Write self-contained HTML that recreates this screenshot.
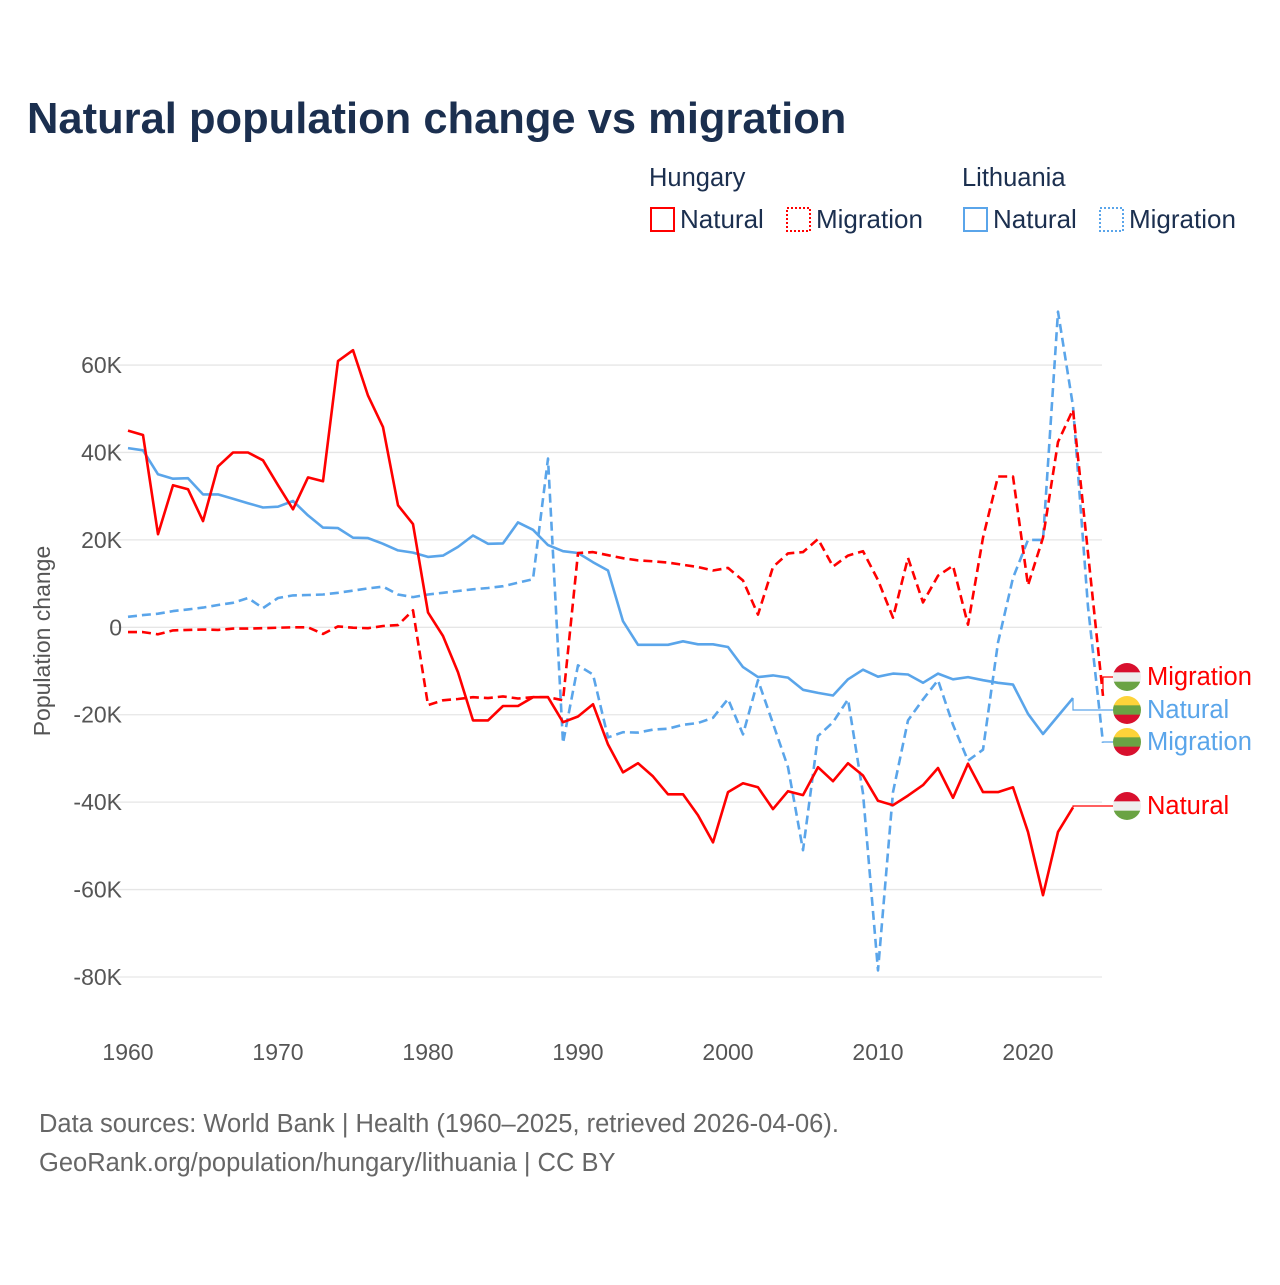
<!DOCTYPE html>
<html><head><meta charset="utf-8">
<style>
html,body{margin:0;padding:0;background:#fff;}
body{width:1280px;height:1280px;overflow:hidden;font-family:"Liberation Sans",sans-serif;}
svg text{font-family:"Liberation Sans",sans-serif;}
</style></head>
<body>
<svg id="chart" width="1280" height="1280" viewBox="0 0 1280 1280">
<text x="27" y="133" font-size="43.5" font-weight="bold" fill="#1b2f4f">Natural population change vs migration</text>
<g>
<text x="649" y="186" font-size="25.5" fill="#1b2f4f">Hungary</text>
<text x="962" y="186" font-size="25.5" fill="#1b2f4f">Lithuania</text>
<g><rect x="651" y="208" width="23" height="23" fill="none" stroke="#ff0000" stroke-width="2"/><text x="680" y="228" font-size="26" fill="#1b2f4f">Natural</text></g>
<g><rect x="787" y="208" width="23" height="23" fill="none" stroke="#ff0000" stroke-width="2" stroke-dasharray="2,2"/><text x="816" y="228" font-size="26" fill="#1b2f4f">Migration</text></g>
<g><rect x="964" y="208" width="23" height="23" fill="none" stroke="#5aa5ea" stroke-width="2"/><text x="993" y="228" font-size="26" fill="#1b2f4f">Natural</text></g>
<g><rect x="1100" y="208" width="23" height="23" fill="none" stroke="#5aa5ea" stroke-width="2" stroke-dasharray="2,2"/><text x="1129" y="228" font-size="26" fill="#1b2f4f">Migration</text></g>
</g>
<g id="grid"></g>
<g id="yticks"></g>
<g id="xticks"></g>
<text transform="translate(50,641) rotate(-90)" text-anchor="middle" font-size="23" fill="#555">Population change</text>
<g id="series"></g>
<g id="labels"></g>
<text x="39" y="1132" font-size="25.5" fill="#666">Data sources: World Bank | Health (1960–2025, retrieved 2026-04-06).</text>
<text x="39" y="1171" font-size="25.5" fill="#666">GeoRank.org/population/hungary/lithuania | CC BY</text>
</svg>
<script>
const yTicks = [60, 40, 20, 0, -20, -40, -60, -80];
const yTickLabels = ["60K","40K","20K","0","-20K","-40K","-60K","-80K"];
const xTicks = [1960,1970,1980,1990,2000,2010,2020];
const startYear = 1960;
const huNatural = [45,44,21.3,32.5,31.6,24.3,36.8,40,40,38.2,32.5,27,34.3,33.4,60.9,63.4,53,45.8,27.9,23.6,3.4,-2,-10.3,-21.3,-21.3,-18,-18,-16,-16,-21.7,-20.4,-17.6,-26.8,-33.2,-31.1,-34.1,-38.2,-38.2,-43,-49.2,-37.7,-35.7,-36.6,-41.6,-37.5,-38.4,-32,-35.2,-31.1,-33.9,-39.7,-40.7,-38.5,-36.1,-32.2,-39,-31.2,-37.7,-37.7,-36.6,-46.8,-61.3,-46.8,-41.2];
const huMigration = [-1.1,-1.1,-1.6,-0.7,-0.6,-0.5,-0.6,-0.3,-0.3,-0.2,-0.1,0,0,-1.5,0.2,-0.1,-0.2,0.3,0.5,3.9,-17.8,-16.7,-16.4,-16,-16.2,-15.8,-16.3,-16,-16,-16.7,17,17.2,16.5,15.8,15.3,15.1,14.8,14.3,13.8,13,13.6,10.7,2.9,13.8,16.9,17.2,20.2,13.9,16.4,17.4,10.8,2.2,15.9,5.7,11.8,14.1,0.6,20.5,34.5,34.5,9.6,20.5,42.4,49.8,17,-15.7];
const ltNatural = [41,40.5,35,34,34.1,30.4,30.4,29.4,28.4,27.4,27.6,28.9,25.6,22.8,22.7,20.5,20.4,19.1,17.6,17.1,16.1,16.4,18.4,21,19.1,19.2,24,22.3,18.8,17.4,17,14.9,13,1.4,-4,-4,-4,-3.2,-3.9,-3.9,-4.5,-9.1,-11.4,-11,-11.5,-14.3,-15,-15.6,-11.9,-9.7,-11.3,-10.6,-10.8,-12.7,-10.6,-11.9,-11.4,-12.1,-12.7,-13.1,-19.8,-24.4,-20.3,-16.2];
const ltMigration = [2.4,2.8,3.1,3.7,4.1,4.5,5.1,5.6,6.7,4.4,6.7,7.3,7.4,7.5,7.9,8.4,8.9,9.3,7.5,6.9,7.5,7.9,8.3,8.7,9,9.4,10.2,11,38.6,-26.5,-8.7,-10.8,-25.2,-24,-24.1,-23.4,-23.2,-22.3,-21.9,-20.7,-16.4,-24.5,-12.1,-22,-32,-51,-24.9,-21.7,-16.5,-38,-78.5,-37.7,-21.3,-16.5,-12.1,-22.3,-30.5,-28,-3.5,11.3,20,20,72.2,50.6,4.7,-26.4];

const NS="http://www.w3.org/2000/svg";
const X0=128, XPY=15, Y0=627.3, PPK=4.371, XR=1102;
function xs(yr){return X0+(yr-1960)*XPY;}
function ys(v){return Y0-v*PPK;}
function mk(tag,attrs,parent){const e=document.createElementNS(NS,tag);for(const k in attrs)e.setAttribute(k,attrs[k]);parent.appendChild(e);return e;}

const grid=document.getElementById('grid'), yt=document.getElementById('yticks'), xt=document.getElementById('xticks');
yTicks.forEach((v,i)=>{
  const l=mk('line',{x1:110,x2:XR,y1:ys(v),y2:ys(v),stroke:'#e6e6e6','stroke-width':1.3},grid);
  
  
  const t=mk('text',{x:122,y:ys(v)+8,'text-anchor':'end','font-size':23,fill:'#555'},yt);
  t.textContent=yTickLabels[i];
  
  
});
xTicks.forEach(yr=>{
  const t=mk('text',{x:xs(yr),y:1060,'text-anchor':'middle','font-size':23,fill:'#555'},xt);
  t.textContent=String(yr);
  
  
});

const ser=document.getElementById('series');
function line(data,color,dash,name){
  const pts=data.map((v,i)=>xs(startYear+i).toFixed(1)+','+ys(v).toFixed(1)).join(' ');
  const p=mk('polyline',{points:pts,fill:'none',stroke:color,'stroke-width':2.6,'stroke-linejoin':'round'},ser);
  if(dash)p.setAttribute('stroke-dasharray','9,5');
  
  
  return p;
}
line(ltNatural,'#5aa5ea',false,'lithuania-natural-line');
line(ltMigration,'#5aa5ea',true,'lithuania-migration-line');
line(huMigration,'#ff0000',true,'hungary-migration-line');
line(huNatural,'#ff0000',false,'hungary-natural-line');

const lab=document.getElementById('labels');
function endLabel(data,color,ly,flag,text,name){
  const n=data.length-1, ex=xs(startYear+n), ey=ys(data[n]);
  const c=mk('polyline',{points:`${ex},${ey} ${ex},${ly} 1113,${ly}`,fill:'none',stroke:color,'stroke-width':1.2},lab);
  
  
  const g=mk('g',{},lab);
  
  
  const cid='clip'+name;
  const cp=mk('clipPath',{id:cid},g); mk('circle',{cx:1127,cy:ly,r:14},cp);
  const cols=flag==='hu'?['#d8102e','#eeeeee','#6aa343']:['#fdd33a','#6aa343','#d8102e'];
  cols.forEach((col,i)=>mk('rect',{x:1113,y:ly-14+i*28/3,width:28,height:28/3+0.5,fill:col,'clip-path':`url(#${cid})`},g));
  const t=mk('text',{x:1147,y:ly+8,'font-size':25.5,fill:color},lab);
  t.textContent=text;
  
  
}
endLabel(huMigration,'#ff0000',677,'hu','Migration','hungary-migration');
endLabel(ltNatural,'#5aa5ea',710,'lt','Natural','lithuania-natural');
endLabel(ltMigration,'#5aa5ea',742,'lt','Migration','lithuania-migration');
endLabel(huNatural,'#ff0000',806,'hu','Natural','hungary-natural');
</script>
</body></html>
